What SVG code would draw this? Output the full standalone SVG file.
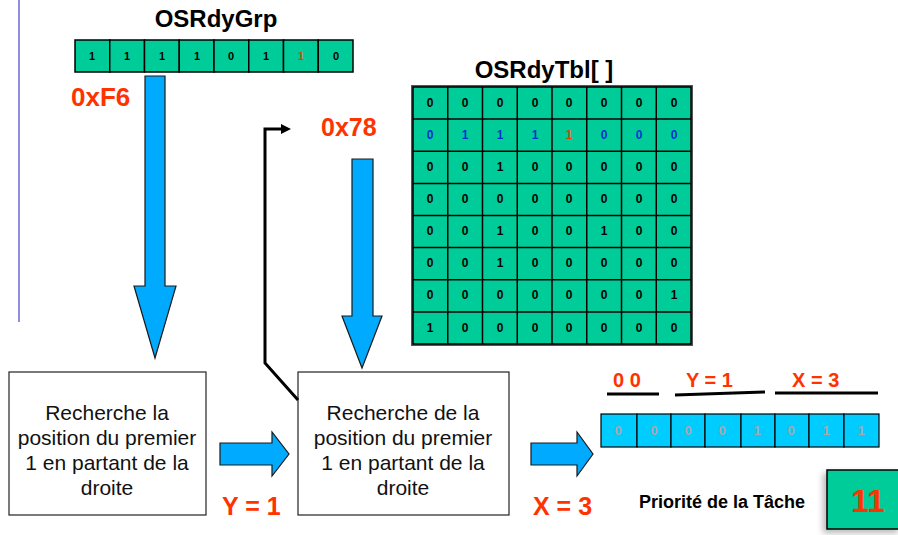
<svg xmlns="http://www.w3.org/2000/svg" width="898" height="535" viewBox="0 0 898 535">
  <defs>
    <style>
      .title { font-family: "Liberation Sans", Arial, sans-serif; font-weight: bold; font-size: 24px; fill: #000; text-anchor: middle; }
      .red { font-family: "Liberation Sans", Arial, sans-serif; font-weight: bold; fill: #ff3300; }
      .cell { fill: #00cc99; stroke: #000; stroke-width: 1.5; }
      .reg { fill: #00ccff; stroke: #000; stroke-width: 1.2; }
      .bit { font-family: "Liberation Sans", Arial, sans-serif; font-weight: bold; font-size: 11px; fill: #000; text-anchor: middle; }
      .gbit { font-family: "Liberation Sans", Arial, sans-serif; font-weight: bold; font-size: 12px; fill: #000; text-anchor: middle; }
      .rbit { font-family: "Liberation Sans", Arial, sans-serif; font-weight: bold; font-size: 13px; fill: #a8a8a8; text-anchor: middle; }
      .blue { fill: #0033cc; }
      .hot { fill: #ff3300; }
      .box { fill: #fff; stroke: #222; stroke-width: 1.2; }
      .boxtext { font-family: "Liberation Sans", Arial, sans-serif; font-size: 21px; fill: #111; text-anchor: middle; }
      .flow { fill: #00aaff; stroke: #1a1a1a; stroke-width: 1.2; stroke-linejoin: miter; }
      .rule { stroke: #000; stroke-width: 3; fill: none; }
    </style>
    <marker id="arrowhead" markerWidth="10" markerHeight="10" refX="2" refY="5" orient="auto" markerUnits="userSpaceOnUse">
      <path d="M0,0 L10,5 L0,10 Z" fill="#000"/>
    </marker>
    <filter id="shadow" x="-30%" y="-30%" width="160%" height="160%">
      <feGaussianBlur stdDeviation="3"/>
    </filter>
  </defs>

  <rect width="898" height="535" fill="#fff"/>

  <!-- slide margin rule -->
  <line x1="19" y1="0" x2="19" y2="322" stroke="#6a6ad8" stroke-width="1.5"/>

  <!-- ready group register -->
  <g id="osrdygrp">
    <text class="title" x="216" y="27">OSRdyGrp</text>
    <g>
      <rect class="cell" x="75" y="40" width="34.75" height="32"/>
      <rect class="cell" x="109.75" y="40" width="34.75" height="32"/>
      <rect class="cell" x="144.5" y="40" width="34.75" height="32"/>
      <rect class="cell" x="179.25" y="40" width="34.75" height="32"/>
      <rect class="cell" x="214" y="40" width="34.75" height="32"/>
      <rect class="cell" x="248.75" y="40" width="34.75" height="32"/>
      <rect class="cell" x="283.5" y="40" width="34.75" height="32"/>
      <rect class="cell" x="318.25" y="40" width="34.75" height="32"/>
    </g>
    <g>
      <text class="bit" x="92" y="60">1</text>
      <text class="bit" x="127" y="60">1</text>
      <text class="bit" x="162" y="60">1</text>
      <text class="bit" x="197" y="60">1</text>
      <text class="bit" x="231" y="60">0</text>
      <text class="bit" x="266" y="60">1</text>
      <text class="bit hot" x="301" y="60">1</text>
      <text class="bit" x="336" y="60">0</text>
    </g>
    <text class="red" x="71" y="106" font-size="26">0xF6</text>
  </g>

  <!-- ready table -->
  <g id="osrdytbl">
    <text class="title" x="544" y="78">OSRdyTbl[ ]</text>
    <rect x="412" y="86" width="280" height="259" fill="none" stroke="#555" stroke-width="2"/>
    <g id="tbl-cells">
      <rect class="cell" x="413" y="87" width="278" height="257"/>
      <path d="M447.75,87V344 M482.5,87V344 M517.25,87V344 M552,87V344 M586.75,87V344 M621.5,87V344 M656.25,87V344
               M413,119.1H691 M413,151.25H691 M413,183.4H691 M413,215.5H691 M413,247.6H691 M413,279.75H691 M413,311.9H691"
            stroke="#000" stroke-width="1.5" fill="none"/>
    </g>
    <g id="tbl-bits">
      <!-- row 0 -->
      <text class="gbit" x="430" y="107">0</text><text class="gbit" x="465" y="107">0</text><text class="gbit" x="500" y="107">0</text><text class="gbit" x="535" y="107">0</text><text class="gbit" x="569" y="107">0</text><text class="gbit" x="604" y="107">0</text><text class="gbit" x="639" y="107">0</text><text class="gbit" x="674" y="107">0</text>
      <!-- row 1 -->
      <text class="gbit blue" x="430" y="139">0</text><text class="gbit blue" x="465" y="139">1</text><text class="gbit blue" x="500" y="139">1</text><text class="gbit blue" x="535" y="139">1</text><text class="gbit hot" x="569" y="139">1</text><text class="gbit blue" x="604" y="139">0</text><text class="gbit blue" x="639" y="139">0</text><text class="gbit blue" x="674" y="139">0</text>
      <!-- row 2 -->
      <text class="gbit" x="430" y="171">0</text><text class="gbit" x="465" y="171">0</text><text class="gbit" x="500" y="171">1</text><text class="gbit" x="535" y="171">0</text><text class="gbit" x="569" y="171">0</text><text class="gbit" x="604" y="171">0</text><text class="gbit" x="639" y="171">0</text><text class="gbit" x="674" y="171">0</text>
      <!-- row 3 -->
      <text class="gbit" x="430" y="203">0</text><text class="gbit" x="465" y="203">0</text><text class="gbit" x="500" y="203">0</text><text class="gbit" x="535" y="203">0</text><text class="gbit" x="569" y="203">0</text><text class="gbit" x="604" y="203">0</text><text class="gbit" x="639" y="203">0</text><text class="gbit" x="674" y="203">0</text>
      <!-- row 4 -->
      <text class="gbit" x="430" y="235">0</text><text class="gbit" x="465" y="235">0</text><text class="gbit" x="500" y="235">1</text><text class="gbit" x="535" y="235">0</text><text class="gbit" x="569" y="235">0</text><text class="gbit" x="604" y="235">1</text><text class="gbit" x="639" y="235">0</text><text class="gbit" x="674" y="235">0</text>
      <!-- row 5 -->
      <text class="gbit" x="430" y="267">0</text><text class="gbit" x="465" y="267">0</text><text class="gbit" x="500" y="267">1</text><text class="gbit" x="535" y="267">0</text><text class="gbit" x="569" y="267">0</text><text class="gbit" x="604" y="267">0</text><text class="gbit" x="639" y="267">0</text><text class="gbit" x="674" y="267">0</text>
      <!-- row 6 -->
      <text class="gbit" x="430" y="299">0</text><text class="gbit" x="465" y="299">0</text><text class="gbit" x="500" y="299">0</text><text class="gbit" x="535" y="299">0</text><text class="gbit" x="569" y="299">0</text><text class="gbit" x="604" y="299">0</text><text class="gbit" x="639" y="299">0</text><text class="gbit" x="674" y="299">1</text>
      <!-- row 7 -->
      <text class="gbit" x="430" y="332">1</text><text class="gbit" x="465" y="332">0</text><text class="gbit" x="500" y="332">0</text><text class="gbit" x="535" y="332">0</text><text class="gbit" x="569" y="332">0</text><text class="gbit" x="604" y="332">0</text><text class="gbit" x="639" y="332">0</text><text class="gbit" x="674" y="332">0</text>
    </g>
    <text class="red" x="321" y="136" font-size="25">0x78</text>
  </g>

  <!-- search steps -->
  <g id="step-y">
    <rect class="box" x="9" y="372" width="197" height="143"/>
    <text class="boxtext" x="107" y="420">Recherche la</text>
    <text class="boxtext" x="107" y="445">position du premier</text>
    <text class="boxtext" x="107" y="470">1 en partant de la</text>
    <text class="boxtext" x="107" y="495">droite</text>
  </g>

  <g id="step-x">
    <rect class="box" x="298" y="372" width="211" height="143"/>
    <text class="boxtext" x="403" y="420">Recherche de la</text>
    <text class="boxtext" x="403" y="445">position du premier</text>
    <text class="boxtext" x="403" y="470">1 en partant de la</text>
    <text class="boxtext" x="403" y="495">droite</text>
  </g>

  <!-- resulting priority bits -->
  <g id="prio-reg">
    <rect class="reg" x="601" y="414" width="36" height="33"/>
    <rect class="reg" x="637" y="414" width="34" height="33"/>
    <rect class="reg" x="671" y="414" width="34" height="33"/>
    <rect class="reg" x="705" y="414" width="36" height="33"/>
    <rect class="reg" x="741" y="414" width="34" height="33"/>
    <rect class="reg" x="775" y="414" width="34" height="33"/>
    <rect class="reg" x="809" y="414" width="35" height="33"/>
    <rect class="reg" x="844" y="414" width="35" height="33"/>
    <text class="rbit" x="618" y="435">0</text>
    <text class="rbit" x="654" y="435">0</text>
    <text class="rbit" x="688" y="435">0</text>
    <text class="rbit" x="722" y="435">0</text>
    <text class="rbit" x="757" y="435">1</text>
    <text class="rbit" x="791" y="435">0</text>
    <text class="rbit" x="826" y="435">1</text>
    <text class="rbit" x="861" y="435">1</text>
    <text class="red" x="613" y="387" font-size="20">0 0</text>
    <text class="red" x="686" y="387" font-size="20">Y = 1</text>
    <text class="red" x="792" y="387" font-size="20">X = 3</text>
    <line class="rule" x1="607" y1="394" x2="659" y2="394"/>
    <path class="rule" d="M675,395 L765,392"/>
    <line class="rule" x1="775" y1="393" x2="878" y2="393"/>
  </g>

  <g id="priority">
    <text x="639" y="508" font-family="'Liberation Sans', Arial, sans-serif" font-weight="bold" font-size="18" fill="#000">Priorité de la Tâche</text>
    <rect x="823" y="473" width="75" height="60" fill="#888" opacity="0.6" filter="url(#shadow)"/>
    <rect x="827" y="470" width="72" height="59" fill="#00cc99" stroke="#000" stroke-width="1.5"/>
    <text class="red" x="868" y="512" font-size="32" text-anchor="middle">11</text>
  </g>

  <!-- connectors -->
  <g id="connectors">
    <path class="flow" d="M145,76 H165 V286 H176 L155,358 L134,286 H145 Z"/>
    <path class="flow" d="M352,159 H373 V316 H382 L362,368 L342,316 H352 Z"/>
    <path class="flow" d="M220,443 H272 V432 L289,454 L272,476 V465 H220 Z"/>
    <path class="flow" d="M531,443 H577 V432 L593,454 L577,476 V465 H531 Z"/>
    <polyline points="298,400 265,363 265,129 283,129" fill="none" stroke="#000" stroke-width="3" marker-end="url(#arrowhead)"/>
    <text class="red" x="222" y="515" font-size="25">Y = 1</text>
    <text class="red" x="533" y="515" font-size="25">X = 3</text>
  </g>
</svg>
